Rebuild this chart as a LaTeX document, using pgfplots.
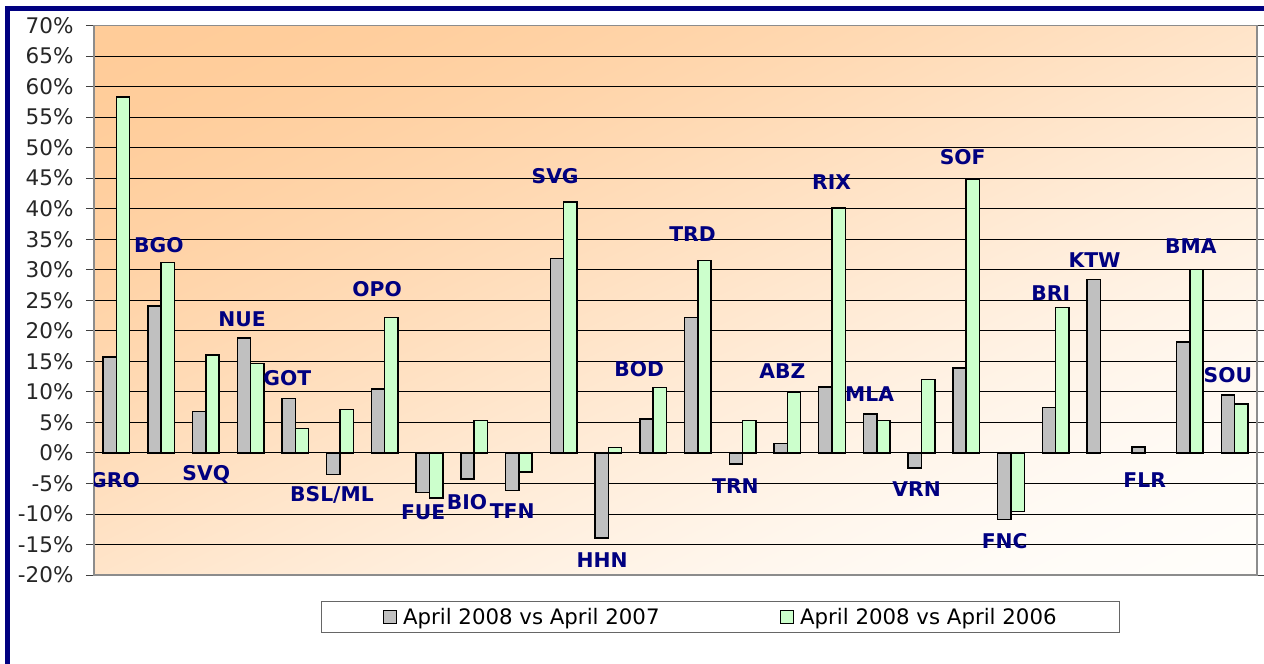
\documentclass[border=0pt]{standalone}
\usepackage{pgfplots}
\pgfplotsset{compat=1.18}
\usepackage{fontspec}
\setmainfont{DejaVu Sans}
\definecolor{navyc}{HTML}{000080}
\definecolor{barg}{HTML}{C0C0C0}
\definecolor{barl}{HTML}{CCFFCC}
\definecolor{framec}{HTML}{8C8C8C}
\pgfdeclarefunctionalshading{diagbg}{\pgfpoint{0bp}{0bp}}{\pgfpoint{100bp}{100bp}}{}{
  75 exch sub exch 25 sub add 100 div
  dup 0 lt {pop 0} if dup 1 gt {pop 1} if
  dup dup mul exch 2 mul 3 exch sub mul
  dup 0.192 mul 0.8 add exch 0.38 mul 0.6 add
  1 3 1 roll
}
\tikzset{lab/.style={font=\fontsize{20.3}{22}\selectfont\bfseries, text=navyc, inner sep=0pt}}
\begin{document}
\begin{tikzpicture}
\useasboundingbox (0,0) rectangle (1264pt,664pt);
\fill[navyc] (5pt,0pt) rectangle (10pt,658pt);
\fill[navyc] (5pt,653pt) rectangle (1264pt,658pt);
\begin{axis}[
  at={(94pt,89pt)}, anchor=south west,
  scale only axis, width=1163pt, height=549.5pt,
  xmin=-0.5, xmax=25.5, ymin=-20, ymax=70,
  xtick=\empty,
  ytick={-20,-15,...,70},
  yticklabels={-20\%,-15\%,-10\%,-5\%,0\%,5\%,10\%,15\%,20\%,25\%,30\%,35\%,40\%,45\%,50\%,55\%,60\%,65\%,70\%},
  yticklabel style={font=\fontsize{21.5}{24}\selectfont, color=black!85, xshift=-9pt},
  tick align=outside, major tick length=8pt,
  tick style={black!75, line width=0.8pt},
  ymajorgrids, grid style={black, line width=0.8pt},
  axis line style={framec, line width=1.5pt},
  axis background/.style={shade, shading=diagbg},
  ybar, bar width=13.3pt,
  legend columns=2,
  legend style={at={(0.1952,-0.0473)}, anchor=north west, draw=black!60, line width=1pt,
    font=\fontsize{21.3}{24}\selectfont, inner xsep=61pt, inner ysep=4.5pt,
    /tikz/every even column/.append style={column sep=118pt}},
  legend image code/.code={\draw[#1, line width=1pt] (0pt,-6.5pt) rectangle (13pt,6.5pt); \path[draw=none, fill=none] (13pt,0pt) -- (18pt,0pt);},
]
\addplot[draw=black, line width=1.5pt, fill=barg, bar shift=-6.65pt] coordinates {
(0,15.7) (1,24.05) (2,6.8) (3,18.8) (4,8.9) (5,-3.5) (6,10.5) (7,-6.5) (8,-4.3) (9,-6.2)
(10,31.8) (11,-13.9) (12,5.55) (13,22.2) (14,-1.86) (15,1.55) (16,10.8) (17,6.4) (18,-2.5) (19,13.9)
(20,-10.9) (21,7.4) (22,28.4) (23,0.94) (24,18.2) (25,9.5)};
\addlegendentry{April 2008 vs April 2007}
\addplot[draw=black, line width=1.5pt, fill=barl, bar shift=6.65pt] coordinates {
(0,58.3) (1,31.2) (2,16.0) (3,14.6) (4,4.0) (5,7.1) (6,22.2) (7,-7.4) (8,5.3) (9,-3.1)
(10,41.1) (11,0.9) (12,10.7) (13,31.5) (14,5.3) (15,9.9) (16,40.1) (17,5.3) (18,12.0) (19,44.8)
(20,-9.6) (21,23.8) (24,30.0) (25,8.0)};
\addlegendentry{April 2008 vs April 2006}
\node[lab] at (axis cs:-0.03,-4.5) {GRO};
\node[lab] at (axis cs:0.95,34.05) {BGO};
\node[lab] at (axis cs:2.01,-3.5) {SVQ};
\node[lab] at (axis cs:2.81,21.9) {NUE};
\node[lab] at (axis cs:3.82,12.2) {GOT};
\node[lab] at (axis cs:4.82,-6.9) {BSL/ML};
\node[lab] at (axis cs:5.83,26.8) {OPO};
\node[lab] at (axis cs:6.86,-9.8) {FUE};
\node[lab] at (axis cs:7.84,-8.1) {BIO};
\node[lab] at (axis cs:8.85,-9.6) {TFN};
\node[lab] at (axis cs:9.81,45.4) {SVG};
\node[lab] at (axis cs:10.86,-17.5) {HHN};
\node[lab] at (axis cs:11.69,13.8) {BOD};
\node[lab] at (axis cs:12.88,35.9) {TRD};
\node[lab] at (axis cs:13.84,-5.5) {TRN};
\node[lab] at (axis cs:14.89,13.4) {ABZ};
\node[lab] at (axis cs:15.99,44.4) {RIX};
\node[lab] at (axis cs:16.84,9.7) {MLA};
\node[lab] at (axis cs:17.89,-6.0) {VRN};
\node[lab] at (axis cs:18.92,48.4) {SOF};
\node[lab] at (axis cs:19.86,-14.4) {FNC};
\node[lab] at (axis cs:20.89,26.2) {BRI};
\node[lab] at (axis cs:21.87,31.6) {KTW};
\node[lab] at (axis cs:22.99,-4.5) {FLR};
\node[lab] at (axis cs:24.02,33.9) {BMA};
\node[lab] at (axis cs:24.85,12.8) {SOU};
\end{axis}
\end{tikzpicture}
\end{document}
